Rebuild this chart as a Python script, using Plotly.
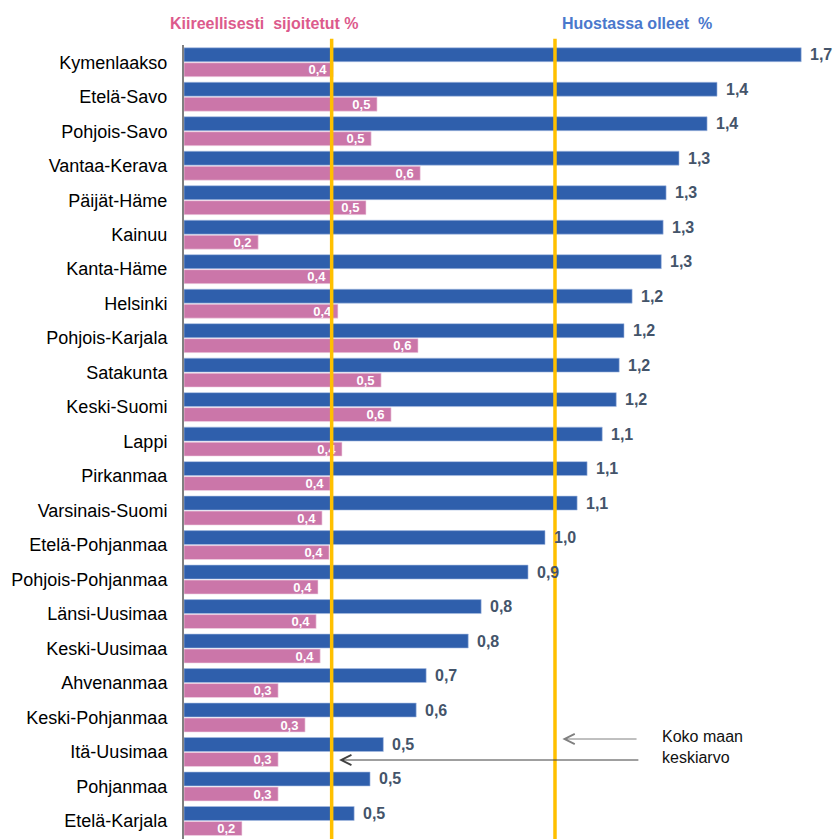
import plotly.graph_objects as go

regions = ["Kymenlaakso", "Etelä-Savo", "Pohjois-Savo", "Vantaa-Kerava", "Päijät-Häme",
           "Kainuu", "Kanta-Häme", "Helsinki", "Pohjois-Karjala", "Satakunta",
           "Keski-Suomi", "Lappi", "Pirkanmaa", "Varsinais-Suomi", "Etelä-Pohjanmaa",
           "Pohjois-Pohjanmaa", "Länsi-Uusimaa", "Keski-Uusimaa", "Ahvenanmaa",
           "Keski-Pohjanmaa", "Itä-Uusimaa", "Pohjanmaa", "Etelä-Karjala"]

huostassa = [1.672, 1.444, 1.417, 1.341, 1.306, 1.298, 1.293, 1.214, 1.192, 1.179,
             1.171, 1.133, 1.092, 1.065, 0.978, 0.932, 0.805, 0.770, 0.656, 0.629,
             0.540, 0.504, 0.461]
kiireelliset = [0.404, 0.523, 0.507, 0.640, 0.493, 0.201, 0.401, 0.417, 0.634, 0.534,
                0.561, 0.428, 0.396, 0.374, 0.393, 0.363, 0.358, 0.369, 0.255, 0.328,
                0.255, 0.255, 0.157]

avg_huostassa = 1.005
avg_kiireelliset = 0.40

title_kiir = "Kiireellisesti\u00a0 sijoitetut %"
title_huos = "Huostassa olleet\u00a0 %"
note_text = "Koko maan<br>keskiarvo"


def fi(v):
    return f"{v:.1f}".replace(".", ",")


FONT = "Liberation Sans, Arial, sans-serif"
BLUE = "#2F5FAC"
PINK = "#CB76A9"

W, H = 835, 839
L, T, R, B = 184, 45, 5, 0
PW, PH = W - L - R, H - T - B

BARGAP, GROUPGAP = 0.13, 0.07
cat_px = PH / len(regions)
blue_shift = cat_px * (1 - BARGAP) / 4  # blue bar sits above the category centre

fig = go.Figure()
fig.add_trace(go.Bar(
    y=regions, x=huostassa, orientation="h", name=title_huos,
    marker=dict(color=BLUE, line=dict(color="#A9BEE3", width=0.6)),
))
fig.add_trace(go.Bar(
    y=regions, x=kiireelliset, orientation="h", name=title_kiir,
    marker=dict(color=PINK, line=dict(color="#F2D6E6", width=0.6)),
    text=[fi(v) + "\u00a0" for v in kiireelliset], textposition="inside",
    insidetextanchor="end", textangle=0,
    textfont=dict(family=FONT, size=13, color="white", weight="bold"),
    constraintext="none",
))

# value labels of the blue bars
for r, v in zip(regions, huostassa):
    fig.add_annotation(xref="x", yref="y", x=v, y=r, xanchor="left", yanchor="middle",
                       xshift=7, yshift=blue_shift, text=f"<b>{fi(v)}</b>", showarrow=False,
                       font=dict(family=FONT, size=16, color="#44546A"))

for avg in (avg_kiireelliset, avg_huostassa):
    fig.add_shape(type="line", xref="x", yref="paper", x0=avg, x1=avg, y0=0, y1=1.008,
                  line=dict(color="#FFC000", width=3.5), layer="above")

title_y = 1.0 + (45 - 23) / PH
fig.add_annotation(xref="paper", yref="paper", x=(264 - 184) / PW, y=title_y,
                   xanchor="center", yanchor="middle",
                   text=f"<b>{title_kiir}</b>", showarrow=False,
                   font=dict(family=FONT, size=16, color="#DC5A8C"))
fig.add_annotation(xref="paper", yref="paper", x=(637 - 184) / PW, y=title_y,
                   xanchor="center", yanchor="middle",
                   text=f"<b>{title_huos}</b>", showarrow=False,
                   font=dict(family=FONT, size=16, color="#4A78CC"))

# arrows to the national averages
fig.add_annotation(xref="x", yref="paper", x=avg_huostassa + 0.02, y=(839 - 739) / PH,
                   axref="x", ayref="pixel", ax=1.23, ay=0, text="", showarrow=True,
                   arrowhead=5, arrowsize=2, arrowwidth=1, arrowcolor="#808080")
fig.add_annotation(xref="x", yref="paper", x=avg_kiireelliset + 0.02, y=(839 - 760) / PH,
                   axref="x", ayref="pixel", ax=1.235, ay=0, text="", showarrow=True,
                   arrowhead=5, arrowsize=2, arrowwidth=1, arrowcolor="#404040")
fig.add_annotation(xref="x", yref="paper", x=1.29, y=(839 - 747) / PH,
                   xanchor="left", yanchor="middle",
                   text=note_text, showarrow=False, align="left",
                   font=dict(family=FONT, size=16, color="#111111"))

fig.update_layout(
    width=W, height=H,
    margin=dict(l=L, r=R, t=T, b=B, autoexpand=False),
    barmode="group", bargap=BARGAP, bargroupgap=GROUPGAP,
    plot_bgcolor="white", paper_bgcolor="white",
    showlegend=False, hovermode=False,
    uniformtext=dict(minsize=13, mode="show"),
    font=dict(family=FONT, color="#000000"),
)
fig.update_xaxes(range=[0, 1.75], visible=False, showgrid=False, zeroline=False)
fig.update_yaxes(autorange="reversed", showgrid=False, showline=True, linecolor="#808080",
                 linewidth=2, ticks="", ticklabelstandoff=11,
                 tickfont=dict(family=FONT, size=18, color="#000000"))

fig.write_html(
    "out.html",
    config={"displayModeBar": False},
    post_script="document.body.style.margin='0';document.body.style.overflow='hidden';",
)
